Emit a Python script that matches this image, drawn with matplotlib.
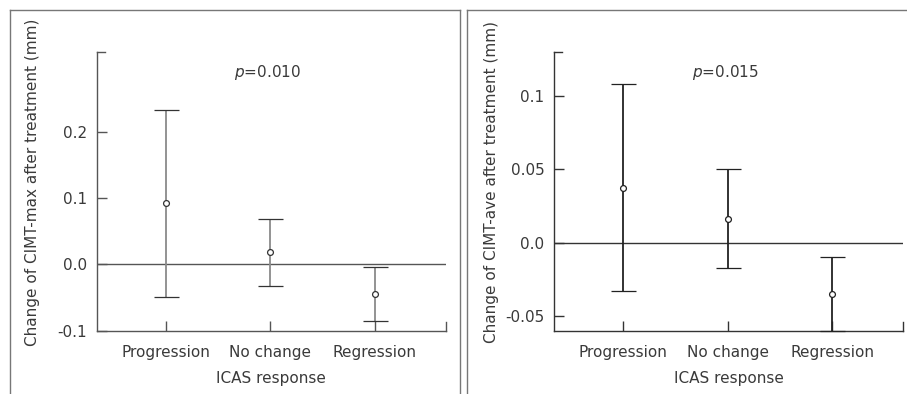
import matplotlib
matplotlib.use("Agg")
import matplotlib.pyplot as plt
from matplotlib.lines import Line2D

# ── Data ───────────────────────────────────────────────────────────────────────
categories = ["Progression", "No change", "Regression"]

max_mean  = [0.092, 0.019, -0.045]
max_upper = [0.233, 0.069, -0.004]
max_lower = [-0.049, -0.032, -0.085]
max_ticks = [-0.1, 0.0, 0.1, 0.2]
max_ticklabels = ["-0.1", "0.0", "0.1", "0.2"]

ave_mean  = [0.037, 0.016, -0.035]
ave_upper = [0.108, 0.050, -0.0095]
ave_lower = [-0.033, -0.017, -0.060]
ave_ticks = [-0.05, 0.0, 0.05, 0.1]
ave_ticklabels = ["-0.05", "0.0", "0.05", "0.1"]

plt.rcParams["font.family"] = ["DejaVu Sans"]
TXT = "#3a3a3a"
FS = 11


def draw_panel(ax, mean, upper, lower, ticks, ticklabels, ylim, ylabel, ptext,
               label_x, bar_col, cap_col, axis_col):
    x = range(1, len(categories) + 1)
    yerr = [[m - l for m, l in zip(mean, lower)],
            [u - m for m, u in zip(mean, upper)]]
    ax.axhline(0, color=axis_col, lw=1.0, zorder=1)
    _, caps, bars = ax.errorbar(x, mean, yerr=yerr, fmt="o", ms=4.2,
                                mfc="white", mec=cap_col, mew=0.9,
                                ecolor=bar_col, elinewidth=1.3, capsize=9,
                                capthick=1.4, zorder=3)
    for c in caps:
        c.set_color(cap_col)
        c.set_markeredgecolor(cap_col)
        c.set_clip_on(False)
    ax.set_xlim(0.34, 3.68)
    ax.set_ylim(*ylim)
    ax.set_xticks(list(x))
    ax.set_xticklabels(categories)
    ax.set_yticks(ticks)
    ax.set_yticklabels(ticklabels)
    for s in ["top", "right"]:
        ax.spines[s].set_visible(False)
    for s in ["left", "bottom"]:
        ax.spines[s].set_color(axis_col)
        ax.spines[s].set_linewidth(1.0)
    ax.tick_params(direction="in", length=7, width=1.0, color=axis_col,
                   labelcolor=TXT, labelsize=FS)
    ax.tick_params(axis="x", pad=10)
    ax.tick_params(axis="y", pad=7)
    # little end marks on the axis lines
    ax.plot([0, 0.022], [1, 1], transform=ax.transAxes, color=axis_col,
            lw=1.0, clip_on=False)
    ax.plot([1, 1], [0, 0.032], transform=ax.transAxes, color=axis_col,
            lw=1.0, clip_on=False)
    ax.set_xlabel("ICAS response", fontsize=FS, color=TXT, labelpad=8)
    ax.set_ylabel(ylabel, fontsize=FS, color=TXT)
    ax.yaxis.set_label_coords(label_x, 0.532)
    ax.text(0.49, 0.926, r"$\it{p}$" + ptext, transform=ax.transAxes,
            ha="center", va="center", fontsize=FS, color=TXT)


fig = plt.figure(figsize=(9.07, 3.94), dpi=100)
ax1 = fig.add_axes([0.1069, 0.1607, 0.3845, 0.7074])
ax2 = fig.add_axes([0.6108, 0.1607, 0.3851, 0.7074])

draw_panel(ax1, max_mean, max_upper, max_lower, max_ticks, max_ticklabels,
           (-0.1, 0.32), "Change of CIMT-max after treatment (mm)", "=0.010",
           -0.163, "#8a8a8a", "#333333", "#555555")
draw_panel(ax2, ave_mean, ave_upper, ave_lower, ave_ticks, ave_ticklabels,
           (-0.06, 0.13), "Change of CIMT-ave after treatment (mm)", "=0.015",
           -0.158, "#222222", "#222222", "#333333")

# panel frames
W, H = 907, 394
frame = dict(color="#777777", lw=1.0)
for xs, ys in [([10, 10], [10, H]), ([10, 460], [10, 10]),
               ([460, 460], [10, H]), ([467, 467], [10, H]),
               ([467, W], [10, 10])]:
    fig.add_artist(Line2D([v / W for v in xs], [1 - v / H for v in ys], **frame))

fig.savefig("out.png", dpi=100)
